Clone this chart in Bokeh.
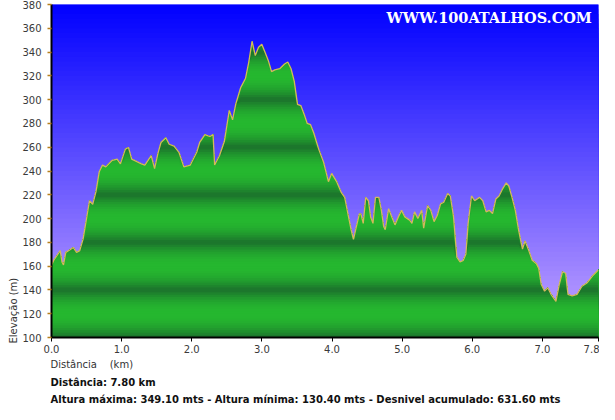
import numpy as np
from bokeh.plotting import figure
from bokeh.models import Range1d, FixedTicker, Label, Title
from bokeh.embed import file_html
from bokeh.resources import INLINE

# ---- data ----
dist_km = [0.0, 0.010, 0.032, 0.079, 0.125, 0.149, 0.171, 0.204, 0.264, 0.310, 0.357, 0.403,
           0.449, 0.496, 0.542, 0.588, 0.635, 0.681, 0.727, 0.774, 0.866, 0.936, 0.983,
           1.053, 1.098, 1.144, 1.283, 1.331, 1.422, 1.470, 1.516, 1.561, 1.631, 1.678,
           1.748, 1.817, 1.887, 1.979, 2.072, 2.113, 2.187, 2.257, 2.304, 2.326, 2.396,
           2.465, 2.535, 2.582, 2.628, 2.697, 2.767, 2.813, 2.860, 2.906, 2.952, 2.999,
           3.045, 3.091, 3.138, 3.184, 3.254, 3.323, 3.369, 3.416, 3.462, 3.508, 3.555,
           3.601, 3.647, 3.694, 3.740, 3.810, 3.879, 3.949, 3.995, 4.064, 4.134, 4.181,
           4.227, 4.273, 4.306, 4.342, 4.390, 4.412, 4.445, 4.481, 4.519, 4.551, 4.584,
           4.620, 4.668, 4.704, 4.737, 4.759, 4.807, 4.853, 4.898, 4.946, 4.992, 5.038,
           5.107, 5.140, 5.177, 5.224, 5.279, 5.307, 5.363, 5.409, 5.455, 5.502, 5.548,
           5.594, 5.649, 5.687, 5.733, 5.780, 5.826, 5.872, 5.909, 5.941, 5.989, 6.034,
           6.104, 6.150, 6.197, 6.243, 6.289, 6.336, 6.382, 6.428, 6.484, 6.521, 6.567,
           6.614, 6.660, 6.716, 6.753, 6.799, 6.855, 6.915, 6.948, 6.984, 7.031, 7.077,
           7.123, 7.193, 7.240, 7.286, 7.332, 7.365, 7.425, 7.494, 7.564, 7.634, 7.727,
           7.796, 7.800]
elev_m = [161, 162, 165, 169, 173, 163.5, 161, 171.6, 173.8, 175.7, 171.6, 173,
          182.5, 198.8, 215, 212, 223, 239.4, 245, 243.5, 249, 250, 246,
          258.4, 259.8, 250, 246, 245, 253, 242, 254.4, 264, 268, 262.5,
          261, 255.7, 243.5, 245, 256, 264, 270.6, 269, 270.6, 245, 253,
          265, 291, 283, 296.4, 310, 318, 331.6, 349.1, 337, 344, 346.6,
          339.9, 333, 323.6, 325, 326, 330, 331.6, 326, 315.4, 296, 295,
          288, 280, 279, 272, 258.4, 247.6, 231, 238, 231.3, 221.8, 217.8,
          204, 190.6, 182.5, 192, 204, 204, 196, 217.8, 215, 201.4, 196,
          217.8, 217.8, 206.9, 193.3, 190.6, 208.3, 201.4, 194.7, 201.4, 206.9, 201.4,
          198.7, 196, 205.6, 200.1, 206.9, 192, 211, 206.9, 197.4, 202.8, 212.3,
          213.7, 221, 219, 201.4, 167.6, 163.5, 164.9, 170.2, 196, 219, 215,
          217.8, 215, 205.6, 206.9, 204.2, 216.4, 219, 224.5, 230, 227.4, 217.8,
          206.9, 190.6, 174.3, 181.1, 174.3, 164.9, 162.1, 158, 144.5, 139, 141.8,
          136.3, 130.4, 144.5, 155.3, 154, 136.3, 135, 136.3, 143.1, 145.8, 152.6,
          156.7, 157]

x_ticks = [0.0, 1.0, 2.0, 3.0, 4.0, 5.0, 6.0, 7.0, 7.8]
x_tick_labels = ["0.0", "1.0", "2.0", "3.0", "4.0", "5.0", "6.0", "7.0", "7.8"]
y_ticks = list(range(100, 381, 20))

x_title = "Distância\u00a0\u00a0\u00a0\u00a0(km)"
y_title = "Elevação (m)"
summary_1 = "Distância: 7.80 km"
summary_2 = ("Altura máxima: 349.10 mts - Altura mínima: 130.40 mts - "
             "Desnivel acumulado: 631.60 mts")
watermark = "WWW.100ATALHOS.COM"

X0, X1 = 0.0, 7.8
Y0, Y1 = 100, 380

dist = np.array(dist_km)
elev = np.array(elev_m)

FONT = "DejaVu Sans"
LEFT, RIGHT, TOP = 51, 1, 4

p = figure(width=599, height=404, output_backend="svg", toolbar_location=None,
           x_range=Range1d(X0, X1), y_range=Range1d(Y0, Y1),
           min_border_left=LEFT, min_border_right=RIGHT, min_border_top=TOP,
           min_border_bottom=10)
p.outline_line_color = None
p.border_fill_color = "white"
p.background_fill_color = "#0000ff"

# ---- background gradient (blue -> lavender) ----
bg_tops = np.arange(Y1, Y0, -4.0)
bg_cols = []
for t in bg_tops:
    f = (Y1 - (t - 2)) / (Y1 - Y0)
    bg_cols.append("#%02x%02x%02x" % (int(200 * f), int(168 * f), 255))
p.quad(left=X0, right=X1, bottom=Y0, top=bg_tops, fill_color=bg_cols,
       line_color=None)

# grid lines on background
p.xgrid.grid_line_color = None
p.ygrid.ticker = FixedTicker(ticks=y_ticks)
p.ygrid.grid_line_color = "#000050"
p.ygrid.grid_line_alpha = 0.18
p.ygrid.level = "image"

# ---- green banded fill ----
bright = np.array([38, 184, 48])
dark = np.array([27, 112, 44])
step = 2.0
for b in np.arange(Y1, Y0, -step):
    mid = b - step / 2
    ph = ((mid - Y0) % 40) / 20.0
    t = abs(ph - 1.0) ** 2.0
    c = (bright * (1 - t) + dark * t).astype(int)
    col = "#%02x%02x%02x" % tuple(c)
    top = np.minimum(elev, b)
    if np.all(top <= Y0):
        continue
    p.varea(x=dist, y1=Y0, y2=top, fill_color=col)

p.line(dist, elev, line_color="#d2b85c", line_width=1.3)

# ---- axes ----
p.xaxis.ticker = FixedTicker(ticks=x_ticks)
p.xaxis.major_label_overrides = {t: l for t, l in zip(x_ticks, x_tick_labels)}
p.yaxis.ticker = FixedTicker(ticks=y_ticks)
for ax in (p.xaxis, p.yaxis):
    ax.minor_tick_line_color = None
    ax.major_label_text_font = FONT
    ax.major_label_text_font_size = "10px"
    ax.major_label_text_color = "#3a3a3a"
    ax.axis_line_color = "black"
    ax.axis_line_width = 2
    ax.major_tick_in = 0
    ax.major_tick_out = 4
p.xaxis.major_tick_line_color = "black"
p.yaxis.major_tick_line_color = "#b8801c"
p.yaxis.major_tick_line_width = 1.5
p.xaxis.major_label_standoff = 3
p.yaxis.major_label_standoff = 6

# ---- titles below and left ----
p.add_layout(Title(text=x_title, align="left", offset=-1, standoff=2,
                   text_font=FONT, text_font_size="10px",
                   text_font_style="normal", text_color="#333333"), "below")
p.add_layout(Title(text=summary_1, align="left", offset=-1, standoff=8,
                   text_font=FONT, text_font_size="10px",
                   text_font_style="bold", text_color="#111111"), "below")
p.add_layout(Title(text=summary_2, align="left", offset=-1, standoff=0,
                   text_font=FONT, text_font_size="10px",
                   text_font_style="bold", text_color="#111111"), "below")
p.add_layout(Title(text=y_title, align="left", offset=-6, standoff=2,
                   text_font=FONT, text_font_size="10px",
                   text_font_style="normal", text_color="#333333"), "left")

# ---- watermark inside the plot ----
px_per_km = (599 - LEFT - RIGHT) / (X1 - X0)
p.add_layout(Label(x=X0 + (386 - LEFT) / px_per_km, y=Y1, y_offset=-13,
                   text=watermark, text_font="DejaVu Serif",
                   text_font_size="14.5px", text_color="white",
                   text_font_style="bold", text_align="left",
                   text_baseline="middle"))

open("out.html", "w").write(file_html(p, INLINE))
